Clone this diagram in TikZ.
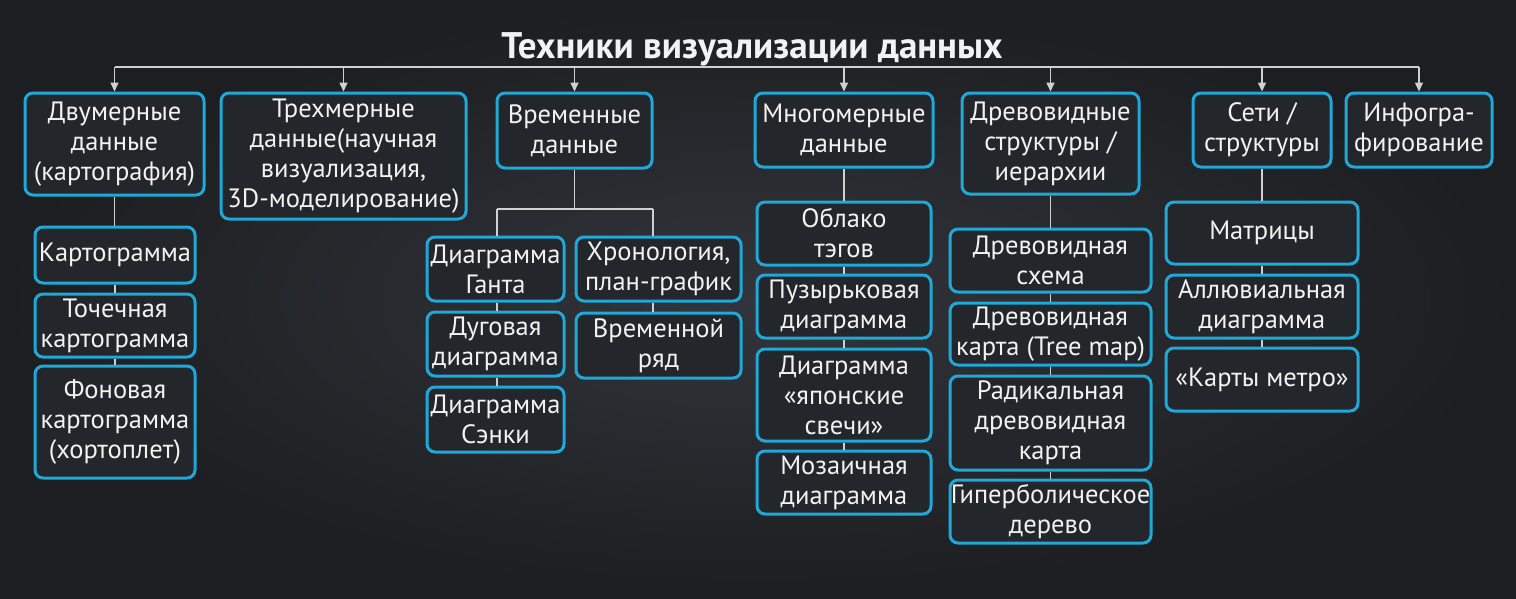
\documentclass[tikz,border=0pt]{standalone}
\usepackage{fontspec}
\setmainfont{PT Sans}
\usetikzlibrary{arrows.meta}
\definecolor{bgin}{HTML}{32353B}
\definecolor{bgout}{HTML}{1C1E21}
\definecolor{boxfill}{HTML}{23262A}
\definecolor{cyanline}{HTML}{1FA8D8}
\definecolor{conncol}{HTML}{D0D0D0}
\definecolor{txt}{HTML}{F2F2F2}
\newcommand{\bx}[6]{\node[bx, minimum width={(#4-#2)*1pt}, minimum height={(#5-#3)*1pt}] (#1) at ({(#2+#4)/2},{(#3+#5)/2}) {#6};}
\begin{document}
\begin{tikzpicture}[x=1pt,y=-1pt,
  bx/.style={draw=cyanline, line width=3pt, rounded corners=8pt, fill=boxfill, inner sep=0pt, align=center, text=txt, font=\fontsize{26.5}{30}\selectfont},
  conn/.style={draw=conncol, line width=1.6pt},
  arr/.style={conn, -{Triangle[length=9pt,width=8pt]}}]
\useasboundingbox (0,0) rectangle (1516,598);
\shade[inner color=bgin, outer color=bgout] (0,0) rectangle (1516,598);

\node[font=\bfseries\fontsize{37}{42}\selectfont, text=txt, anchor=base] (title) at (752,58) {Техники визуализации данных};

\bx{d1}{25}{93}{204}{195}{Двумерные\\данные\\(картография)}
\bx{d2}{221}{93}{466}{219}{Трехмерные\\данные(научная\\визуализация,\\3D-моделирование)}
\bx{d3}{497}{93}{652}{168}{Временные\\данные}
\bx{d4}{755}{93}{933}{167}{Многомерные\\данные}
\bx{d5}{962}{93}{1139}{194}{Древовидные\\структуры /\\иерархии}
\bx{d6}{1193}{93}{1331}{167}{Сети /\\структуры}
\bx{d7}{1346}{93}{1492}{167}{Инфогра-\\фирование}

\bx{k1}{35}{227}{195}{283}{Картограмма}
\bx{k2}{35}{294}{195}{357}{Точечная\\картограмма}
\bx{k3}{35}{366}{195}{478}{Фоновая\\картограмма\\(хортоплет)}

\bx{t1}{427}{237}{564}{301}{Диаграмма\\Ганта}
\bx{t2}{427}{312}{564}{376}{Дуговая\\диаграмма}
\bx{t3}{427}{387}{564}{452}{Диаграмма\\Сэнки}
\bx{t4}{576}{237}{741}{301}{Хронология,\\план-график}
\bx{t5}{576}{313}{741}{378}{Временной\\ряд}

\bx{m1}{757}{202}{931}{265}{Облако\\тэгов}
\bx{m2}{757}{275}{931}{338}{Пузырьковая\\диаграмма}
\bx{m3}{757}{349}{931}{441}{Диаграмма\\«японские\\свечи»}
\bx{m4}{757}{451}{931}{514}{Мозаичная\\диаграмма}

\bx{r1}{950}{229}{1151}{292}{Древовидная\\схема}
\bx{r2}{950}{303}{1151}{365}{Древовидная\\карта (Tree map)}
\bx{r3}{950}{376}{1151}{470}{Радикальная\\древовидная\\карта}
\bx{r4}{950}{480}{1151}{543}{Гиперболическое\\дерево}

\bx{s1}{1166}{202}{1358}{264}{Матрицы}
\bx{s2}{1166}{275}{1358}{338}{Аллювиальная\\диаграмма}
\bx{s3}{1166}{348}{1358}{411}{«Карты метро»}

% top bus
\coordinate (bus) at (0,67);
\draw[conn] (d1.north |- bus) -- (d7.north |- bus);
\foreach \n in {d1,d2,d3,d4,d5,d6,d7} \draw[arr] (\n.north |- bus) -- (\n.north);

% column chains
\draw[conn] (d1.south) -- (d1.south |- k1.north);
\draw[conn] (k1.south) -- (k2.north);
\draw[conn] (k2.south) -- (k3.north);

\coordinate (tl) at (497,209);
\coordinate (tr) at (653,209);
\draw[conn] (d3.south) -- (d3.south |- tl);
\draw[conn] (tl) -- (tr);
\draw[conn] (tl) -- (tl |- t1.north);
\draw[conn] (tl |- t1.south) -- (tl |- t2.north);
\draw[conn] (tl |- t2.south) -- (tl |- t3.north);
\draw[conn] (tr) -- (tr |- t4.north);
\draw[conn] (tr |- t4.south) -- (tr |- t5.north);

\draw[conn] (d4.south) -- (d4.south |- m1.north);
\draw[conn] (d4.south |- m1.south) -- (d4.south |- m2.north);
\draw[conn] (d4.south |- m2.south) -- (d4.south |- m3.north);
\draw[conn] (d4.south |- m3.south) -- (d4.south |- m4.north);

\draw[conn] (d5.south) -- (d5.south |- r1.north);
\draw[conn] (d5.south |- r1.south) -- (d5.south |- r2.north);
\draw[conn] (d5.south |- r2.south) -- (d5.south |- r3.north);
\draw[conn] (d5.south |- r3.south) -- (d5.south |- r4.north);

\draw[conn] (d6.south) -- (d6.south |- s1.north);
\draw[conn] (d6.south |- s1.south) -- (d6.south |- s2.north);
\draw[conn] (d6.south |- s2.south) -- (d6.south |- s3.north);
\end{tikzpicture}
\end{document}
